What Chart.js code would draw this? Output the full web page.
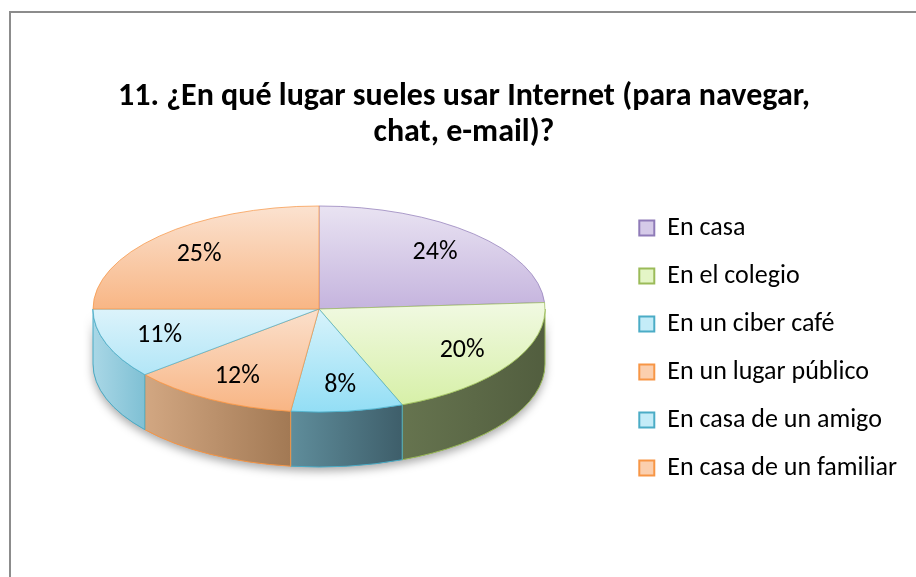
<!DOCTYPE html>
<html>
<head>
<meta charset="utf-8">
<script src="https://cdn.jsdelivr.net/npm/chart.js@4.4.0/dist/chart.umd.min.js"></script>
<style>
  html, body { margin: 0; padding: 0; background: #fff; }
  #wrap { width: 916px; height: 577px; }
</style>
</head>
<body>
<div id="wrap"><canvas id="pieChart" width="916" height="577"></canvas></div>
<script>
const categories = ['En casa', 'En el colegio', 'En un ciber café', 'En un lugar público', 'En casa de un amigo', 'En casa de un familiar'];
const percentages = [24, 20, 8, 12, 11, 25];
const titleLines = ['11. ¿En qué lugar sueles usar Internet (para navegar,', 'chat, e-mail)?'];

// colours
const legendFill = ['#d5cae8', '#e4f5c6', '#c4ecf8', '#fbcfae', '#c4ecf8', '#fbcfae'];
const borderColors = ['#8f7bb8', '#9bbb59', '#4bacc6', '#f79646', '#4bacc6', '#f79646'];
const topLight = ['#e9e3f2', '#f1f9e2', '#d8f3fb', '#fbe0cc', '#dcf3fb', '#fbe2d0'];
const topDark = ['#c5b4de', '#d7f0a8', '#93def5', '#f8b584', '#b2e6f7', '#f8b685'];
const sideLight = ['#9c8ab8', '#66744f', '#5f8d9b', '#d2a782', '#a9d7e6', '#d2a782'];
const sideDark = ['#6e5d8a', '#525e3f', '#3e5e6a', '#a27954', '#7fc0d4', '#a27954'];

// 3d geometry of the pie
const CX = 319, CY = 309, RX = 226, RY = 103, DEPTH = 55;
const LABEL_R = 0.75;
const FONT = 'Carlito, Lato, sans-serif';

const pie3d = {
  id: 'pie3d',
  beforeDraw(chart) {
    const ctx = chart.ctx;
    ctx.save();
    ctx.strokeStyle = '#8c8c8c';
    ctx.lineWidth = 2;
    ctx.strokeRect(10, 12, 1000, 1000);
    ctx.restore();
  },
  beforeDatasetsDraw(chart) {
    const ctx = chart.ctx;
    const arcs = chart.getDatasetMeta(0).data;
    const R = arcs[0].outerRadius;

    // soft shadow under the front rim
    ctx.save();
    ctx.shadowColor = 'rgba(0,0,0,0.35)';
    ctx.shadowBlur = 10;
    ctx.shadowOffsetY = 4;
    ctx.fillStyle = '#777';
    ctx.beginPath();
    ctx.ellipse(CX, CY, RX, RY, 0, 0, Math.PI);
    ctx.ellipse(CX, CY + DEPTH, RX, RY, 0, Math.PI, 0, true);
    ctx.closePath();
    ctx.fill();
    ctx.restore();

    // rim of every slice that faces us
    ctx.save();
    arcs.forEach((arc, i) => {
      const a = Math.max(arc.startAngle, 0);
      const b = Math.min(arc.endAngle, Math.PI);
      if (b <= a) return;
      const xa = CX + RX * Math.cos(a), xb = CX + RX * Math.cos(b);
      const g = ctx.createLinearGradient(Math.min(xa, xb), 0, Math.max(xa, xb), 0);
      g.addColorStop(0, sideLight[i]);
      g.addColorStop(1, sideDark[i]);
      ctx.beginPath();
      ctx.ellipse(CX, CY, RX, RY, 0, a, b);
      ctx.ellipse(CX, CY + DEPTH, RX, RY, 0, b, a, true);
      ctx.closePath();
      ctx.fillStyle = g;
      ctx.fill();
      ctx.strokeStyle = borderColors[i];
      ctx.lineWidth = 1;
      ctx.stroke();
    });
    ctx.restore();

    // vertical gradient on each top face
    arcs.forEach((arc, i) => {
      const ys = [0, Math.sin(arc.startAngle), Math.sin(arc.endAngle)];
      [-Math.PI / 2, Math.PI / 2, 3 * Math.PI / 2].forEach(t => {
        if (t > arc.startAngle && t < arc.endAngle) ys.push(Math.sin(t));
      });
      const y0 = arc.y + R * Math.min(...ys), y1 = arc.y + R * Math.max(...ys);
      const g = ctx.createLinearGradient(0, y0, 0, y1);
      g.addColorStop(0, topLight[i]);
      g.addColorStop(1, topDark[i]);
      arc.options.backgroundColor = g;
    });

    // squash the flat pie into the tilted top face
    ctx.save();
    ctx.translate(CX, CY);
    ctx.scale(RX / R, RY / R);
    ctx.translate(-arcs[0].x, -arcs[0].y);
  },
  afterDatasetsDraw(chart) {
    const ctx = chart.ctx;
    ctx.restore();
    const arcs = chart.getDatasetMeta(0).data;
    ctx.save();
    ctx.font = '26px ' + FONT;
    ctx.fillStyle = '#000';
    ctx.textAlign = 'center';
    ctx.textBaseline = 'middle';
    arcs.forEach((arc, i) => {
      const mid = (arc.startAngle + arc.endAngle) / 2;
      ctx.fillText(percentages[i] + '%', CX + LABEL_R * RX * Math.cos(mid), CY + LABEL_R * RY * Math.sin(mid));
    });
    ctx.restore();
  }
};

new Chart(document.getElementById('pieChart'), {
  type: 'pie',
  data: {
    labels: categories,
    datasets: [
      {
        data: percentages,
        backgroundColor: legendFill,
        borderColor: borderColors,
        borderWidth: 1,
      },
    ],
  },
  options: {
    responsive: false,
    animation: false,
    radius: 226,
    layout: { padding: { left: 21, right: 9, top: 0, bottom: 41 } },
    plugins: {
      title: {
        display: true,
        text: titleLines,
        color: '#000',
        font: { family: FONT, size: 32, weight: 'bold', lineHeight: 1.125 },
        padding: { top: 79, bottom: 9 },
      },
      legend: {
        position: 'right',
        fullSize: false,
        labels: {
          color: '#000',
          font: { family: FONT, size: 26 },
          boxWidth: 15,
          boxHeight: 15,
          padding: 22,
          generateLabels(chart) {
            const items = Chart.overrides.pie.plugins.legend.labels.generateLabels(chart);
            return items.map(it => ({ ...it, lineWidth: 2 }));
          },
        },
      },
      tooltip: { enabled: false },
    },
  },
  plugins: [pie3d],
});
</script>
</body>
</html>
